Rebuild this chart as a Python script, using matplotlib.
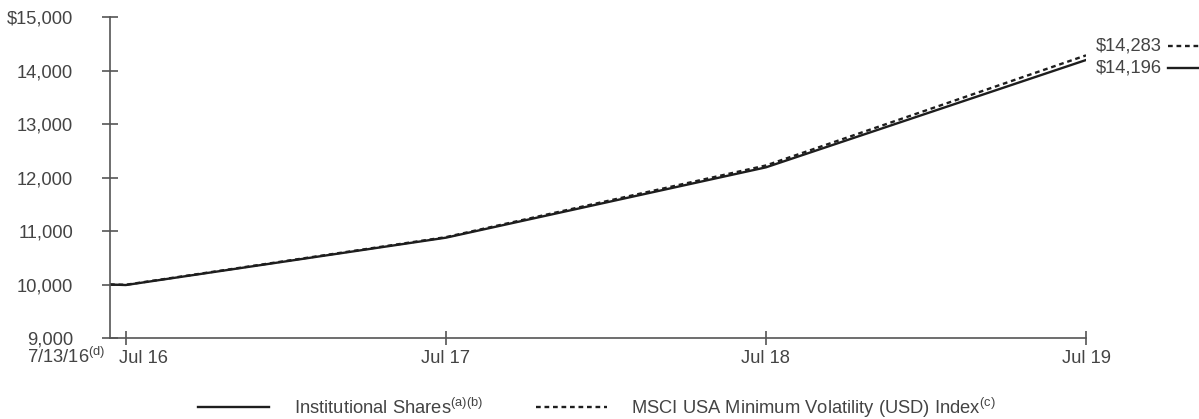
import matplotlib
matplotlib.use("Agg")
import matplotlib.pyplot as plt
import matplotlib.dates as mdates
from matplotlib.lines import Line2D
import pandas as pd

plt.rcParams['font.family'] = ['Liberation Sans', 'DejaVu Sans']
plt.rcParams['mathtext.fontset'] = 'custom'
plt.rcParams['mathtext.rm'] = 'Liberation Sans'
plt.rcParams['mathtext.it'] = 'Liberation Sans'

# Growth of a $10,000 investment
dates = pd.to_datetime(["2016-07-13", "2016-07-31", "2017-07-31", "2018-07-31", "2019-07-31"])
institutional = [10000, 9990, 10875, 12190, 14196]
msci_index = [10000, 9995, 10885, 12225, 14283]

tick_dates = pd.to_datetime(["2016-07-31", "2017-07-31", "2018-07-31", "2019-07-31"])
tick_labels = ["Jul 16", "Jul 17", "Jul 18", "Jul 19"]
y_ticks = [9000, 10000, 11000, 12000, 13000, 14000, 15000]
y_labels = ["9,000", "10,000", "11,000", "12,000", "13,000", "14,000", "$15,000"]

inst_label = "Institutional Shares$^{(a)(b)}$"
idx_label = "MSCI USA Minimum Volatility (USD) Index$^{(c)}$"
start_label = "7/13/16$^{(d)}$"

line_color = "#1e1e1e"
axis_color = "#555555"
text_color = "#444444"
fs = 13.2
dash = (2.0, 1.6)

x_dates = mdates.date2num(dates)
x_ticks = mdates.date2num(tick_dates)

fig = plt.figure(figsize=(11.99, 4.19), dpi=100)
ax = fig.add_axes([110 / 1199, 1 - 338 / 419, (1086 - 110) / 1199, (338 - 17) / 419])

ax.plot(x_dates, institutional, color=line_color, lw=1.7, label=inst_label)
ax.plot(x_dates, msci_index, color=line_color, lw=1.7, dashes=dash, label=idx_label)

ax.set_xlim(x_dates[0], x_ticks[-1])
ax.set_ylim(9000, 15000)

for side in ("top", "right"):
    ax.spines[side].set_visible(False)
for side in ("left", "bottom"):
    ax.spines[side].set_color(axis_color)
    ax.spines[side].set_linewidth(1.2)

ax.set_yticks(y_ticks)
ax.set_yticklabels(y_labels)
ax.tick_params(axis='y', direction='inout', length=11, width=1.2, color=axis_color,
               labelsize=fs, labelcolor=text_color, pad=21)

ax.set_xticks(x_ticks)
ax.set_xticklabels([])
ax.tick_params(axis='x', direction='inout', length=10, width=1.2, color=axis_color)

# date labels along the bottom, all on one baseline
trans_x = ax.get_xaxis_transform()
base = -18
ax.annotate(tick_labels[0], xy=(x_ticks[0], 0), xycoords=trans_x,
            xytext=(-5, base), textcoords='offset points', ha='left', va='baseline',
            fontsize=fs, color=text_color, annotation_clip=False)
for xt, lab in zip(x_ticks[1:], tick_labels[1:]):
    ax.annotate(lab, xy=(xt, 0), xycoords=trans_x,
                xytext=(0, base), textcoords='offset points', ha='center', va='baseline',
                fontsize=fs, color=text_color, annotation_clip=False)
ax.annotate(start_label, xy=(x_dates[0], 0), xycoords=trans_x,
            xytext=(-3, base), textcoords='offset points', ha='right', va='baseline',
            fontsize=fs, color=text_color, annotation_clip=False)

# end-value labels, each followed by a short key line
fig.canvas.draw()
end_x = x_dates[-1]
for val, yoff, dashed in ((msci_index[-1], 7, True), (institutional[-1], -6, False)):
    ax.annotate(f"${val:,.0f}", xy=(end_x, val), xycoords='data',
                xytext=(7, yoff), textcoords='offset points', ha='left', va='center',
                fontsize=fs, color=text_color, annotation_clip=False)
    px, py = ax.transData.transform((end_x, val))
    py += yoff * fig.dpi / 72
    kw = dict(color=line_color, lw=1.7, transform=fig.transFigure)
    if dashed:
        kw['dashes'] = dash
    fig.add_artist(Line2D([(px + 82) / fig.bbox.width, 1.0],
                          [py / fig.bbox.height] * 2, **kw))

fig.legend(loc='center', bbox_to_anchor=(0.498, 0.027), ncol=2, frameon=False,
           fontsize=fs, handlelength=3.85, handletextpad=1.35, columnspacing=2.9,
           labelcolor=text_color)

fig.savefig("out.png", dpi=100, facecolor='white')
